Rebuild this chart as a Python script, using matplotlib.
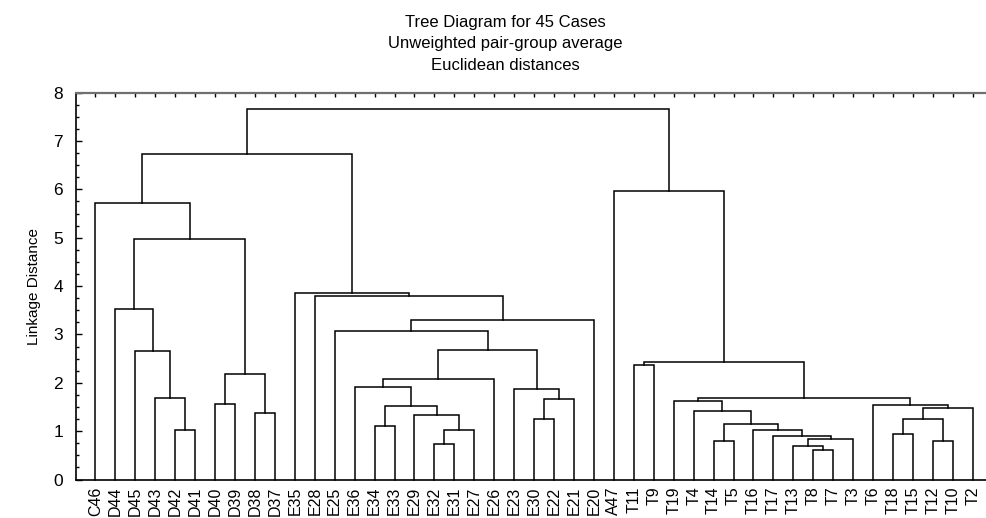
import matplotlib
matplotlib.use("Agg")
import matplotlib.pyplot as plt
from matplotlib.ticker import MultipleLocator

plt.rcParams['font.family'] = ['Liberation Sans', 'DejaVu Sans']

# Leaf order as shown along the x axis
leaves = ["C46", "D44", "D45", "D43", "D42", "D41", "D40", "D39", "D38", "D37",
          "E35", "E28", "E25", "E36", "E34", "E33", "E29", "E32", "E31", "E27",
          "E26", "E23", "E30", "E22", "E21", "E20", "A47", "T11", "T9", "T19",
          "T4", "T14", "T5", "T16", "T17", "T13", "T8", "T7", "T3", "T6",
          "T18", "T15", "T12", "T10", "T2"]

# Merges: left child, right child (leaf label or "m<k>"), linkage distance
merge_left = ["D42", "D43", "D45", "D44", "D40", "D38", "m4", "m3", "C46",
              "E34", "E32", "m10", "E29", "m9", "E36", "m14", "E30", "m16", "E23",
              "m15", "E25", "m20", "E28", "E35", "m8",
              "T8", "T13", "m26", "T17", "T16", "T14", "m30", "T4", "T19",
              "T18", "T12", "m34", "m36", "T6", "m33", "T11", "m40", "A47", "m24"]
merge_right = ["D41", "m0", "m1", "m2", "D39", "D37", "m5", "m6", "m7",
               "E33", "E31", "E27", "m11", "m12", "m13", "E26", "E22", "E21", "m17",
               "m18", "m19", "E20", "m21", "m22", "m23",
               "T7", "m25", "T3", "m27", "m28", "T5", "m29", "m31", "m32",
               "T15", "T10", "m35", "T2", "m37", "m38", "T9", "m39", "m41", "m42"]
merge_height = [1.03, 1.69, 2.65, 3.53, 1.57, 1.37, 2.19, 4.97, 5.72,
                1.11, 0.74, 1.03, 1.34, 1.52, 1.91, 2.07, 1.25, 1.66, 1.88,
                2.68, 3.08, 3.29, 3.79, 3.86, 6.73,
                0.61, 0.70, 0.83, 0.91, 1.03, 0.80, 1.15, 1.42, 1.63,
                0.95, 0.79, 1.26, 1.47, 1.55, 1.69, 2.37, 2.43, 5.97, 7.66]

title_lines = ["Tree Diagram for 45 Cases",
               "Unweighted pair-group average",
               "Euclidean distances"]

W, H = 986, 518
fig = plt.figure(figsize=(W / 100, H / 100), dpi=100)
ax = fig.add_axes([75.5 / W, (H - 479.5) / H, 1 - 75.5 / W, (479.5 - 92.7) / H])

pos = {name: i + 1 for i, name in enumerate(leaves)}
hgt = {name: 0.0 for name in leaves}
for k, (a, b, h) in enumerate(zip(merge_left, merge_right, merge_height)):
    xa, xb = pos[a], pos[b]
    ha, hb = hgt[a], hgt[b]
    ax.plot([xa, xa, xb, xb], [ha, h, h, hb], color='black', lw=1.1,
            solid_joinstyle='miter', clip_on=False)
    name = "m%d" % k
    pos[name] = (xa + xb) / 2
    hgt[name] = h

ax.set_xlim(0, (986 - 75.5) / 19.94)
ax.set_ylim(0, 8)

ax.set_xticks(range(1, len(leaves) + 1))
ax.set_xticklabels(leaves, rotation=90, fontsize=11.5, va='top')
ax.tick_params(axis='x', which='both', bottom=False, top=True, direction='in',
               length=3, width=1, pad=5)
ax.yaxis.set_major_locator(MultipleLocator(1))
ax.yaxis.set_minor_locator(MultipleLocator(0.25))
ax.tick_params(axis='y', which='major', direction='in', length=4, width=1,
               labelsize=12.5, pad=9)
ax.tick_params(axis='y', which='minor', direction='in', length=2, width=1)
ax.set_ylabel("Linkage Distance", fontsize=11, labelpad=9)

ax.spines['right'].set_visible(False)
ax.spines['top'].set_color('#707070')
ax.spines['top'].set_linewidth(1.6)
ax.spines['left'].set_linewidth(1.2)
ax.spines['bottom'].set_linewidth(1.2)

for i, line in enumerate(title_lines):
    fig.text(505 / W, 1 - (22 + 21.5 * i) / H, line, ha='center', va='center',
             fontsize=12)

fig.savefig("out.png", dpi=100)
